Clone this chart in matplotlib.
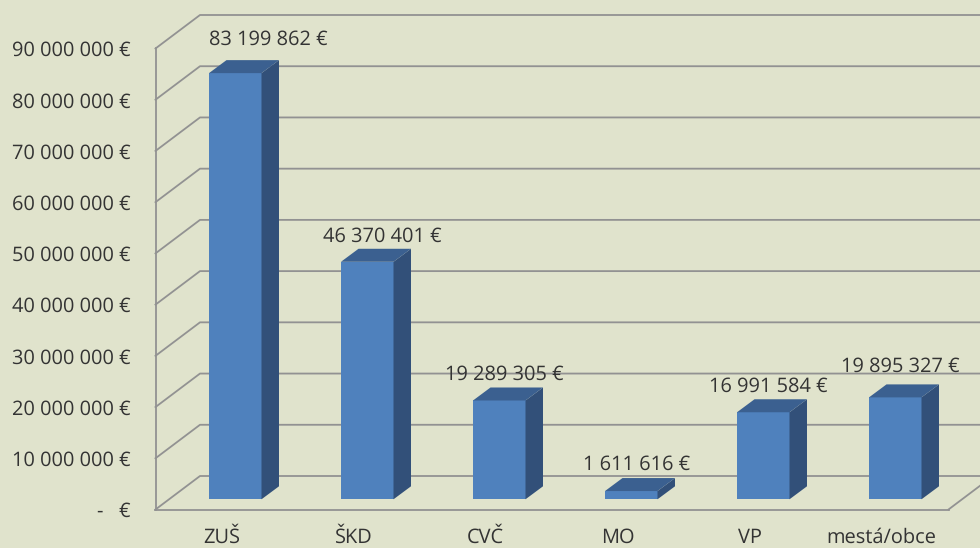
import matplotlib
matplotlib.use("Agg")
import matplotlib.pyplot as plt
from matplotlib.patches import Polygon
from matplotlib.ticker import FuncFormatter

categories = ["ZUŠ", "ŠKD", "CVČ", "MO", "VP", "mestá/obce"]
values = [83199862, 46370401, 19289305, 1611616, 16991584, 19895327]
y_ticks = list(range(0, 90000001, 10000000))

# hand placed data labels in the original, offsets in pixels from the bar top
label_dx = [33, 15, 5.5, 5.5, 5, 5.5]
label_dy = [36, 28, 28, 29, 28, 33]

bg = "#e0e3cc"
front = "#4f81bd"
top = "#3b6090"
side = "#325079"
grid = "#929292"
text = "#333333"

W, H = 980, 548
left, right = 155.5, 948.5
y0, y90 = 509.5, 48.5
x_step = 132
first_x = 221.75
px_x = 1 / x_step
px_y = 90000000 / (y0 - y90)

plt.rcParams["font.family"] = ["Open Sans", "DejaVu Sans"]
plt.rcParams["text.hinting"] = "no_hinting"
plt.rcParams["text.hinting_factor"] = 1

fig = plt.figure(figsize=(W / 100, H / 100), dpi=100, facecolor=bg)
ax = fig.add_axes([left / W, 1 - y0 / H, (right - left) / W, (y0 - y90) / H])
ax.set_facecolor("none")
ax.set_xlim((left - first_x) * px_x, (right - first_x) * px_x)
ax.set_ylim(0, 90000000)


def money(v, pos=None):
    if v == 0:
        return "-   €"
    return f"{int(v):,}".replace(",", " ") + " €"


# back wall and floor
wall_dx = 44.5 * px_x
wall_dy = 33.5 * px_y
x_a, x_b = ax.get_xlim()
for t in y_ticks:
    ax.plot([x_a, x_a + wall_dx, x_b + wall_dx], [t, t + wall_dy, t + wall_dy],
            color=grid, lw=1.3, clip_on=False, zorder=1)
ax.plot([x_b, x_b + wall_dx], [0, wall_dy], color=grid, lw=1.3, clip_on=False, zorder=1)

for s in ["top", "right"]:
    ax.spines[s].set_visible(False)
for s in ["left", "bottom"]:
    ax.spines[s].set_color(grid)
    ax.spines[s].set_linewidth(1.3)
    ax.spines[s].set_zorder(1)

# bars, with the fake 3d faces added by hand
bar_w = 52.5 * px_x
bar_shift = 13.5 * px_x
lift = 10.2 * px_y
depth_x = 17.5 * px_x
depth_y = 13 * px_y

xs = [i + bar_shift for i in range(len(values))]
ax.bar(xs, values, width=bar_w, bottom=lift, color=front, zorder=3)
for i, (x, v) in enumerate(zip(xs, values)):
    x1 = x - bar_w / 2
    x2 = x + bar_w / 2
    y1 = lift
    y2 = lift + v
    ax.add_patch(Polygon([(x2, y1), (x2 + depth_x, y1 + depth_y), (x2 + depth_x, y2 + depth_y), (x2, y2)],
                         facecolor=side, edgecolor="none", clip_on=False, zorder=3))
    ax.add_patch(Polygon([(x1, y2), (x1 + depth_x, y2 + depth_y), (x2 + depth_x, y2 + depth_y), (x2, y2)],
                         facecolor=top, edgecolor="none", clip_on=False, zorder=3))
    ax.annotate(money(v), (x, y2), xytext=(label_dx[i] * 0.72, label_dy[i] * 0.72),
                textcoords="offset points", ha="center", va="center_baseline",
                fontsize=14.4, color=text, annotation_clip=False, zorder=4)

ax.set_yticks(y_ticks)
ax.yaxis.set_major_formatter(FuncFormatter(money))
ax.set_xticks(range(len(categories)))
ax.set_xticklabels(categories)
ax.tick_params(axis="y", length=0, pad=18, labelsize=14.4, labelcolor=text)
ax.tick_params(axis="x", length=0, pad=13, labelsize=14.4, labelcolor=text)
for lab in ax.get_yticklabels():
    lab.set_va("center_baseline")

fig.savefig("out.png", dpi=100, facecolor=bg)
